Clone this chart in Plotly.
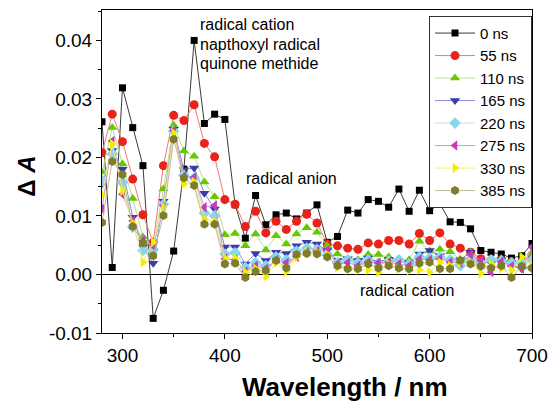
import plotly.graph_objects as go

wavelength = list(range(280, 701, 10))

s0 = [26.1, 1.2, 31.9, 25.1, 18.6, -7.5, -2.7, 4.0, 18.0, 40.0, 25.8, 27.4, 26.5, 11.9, 6.2,
      13.5, 8.5, 10.2, 10.5, 9.5, 10.5, 11.9, 5.5, 6.5, 11.0, 10.5, 12.8, 12.5, 11.5, 14.6,
      10.8, 14.4, 10.9, 12.1, 9.0, 8.9, 7.8, 4.1, 3.8, 3.5, 2.8, 3.2, 5.3]
s55 = [20.8, 27.4, 22.7, 16.3, 10.2, 5.5, 18.6, 27.2, 26.3, 29.0, 22.4, 20.1, 12.8, 12.0, 8.2,
       10.8, 7.1, 9.1, 7.7, 9.1, 10.3, 8.8, 5.2, 4.9, 4.5, 4.3, 5.4, 5.2, 5.8, 5.8,
       5.2, 7.0, 5.8, 7.1, 5.2, 4.5, 3.8, 2.7, 2.4, 2.5, 2.2, 2.1, 3.2]
s110 = [17.5, 25.1, 18.9, 13.0, 6.4, 4.7, 14.6, 25.5, 21.1, 20.2, 15.8, 13.3, 6.8, 7.0, 4.9,
        6.9, 4.2, 6.6, 5.2, 6.9, 8.0, 7.2, 4.9, 3.5, 2.7, 2.5, 3.4, 3.4, 3.0, 2.5,
        2.5, 5.7, 4.0, 4.3, 3.9, 2.6, 3.8, 1.8, 2.4, 2.7, 1.8, 2.1, 3.8]
s165 = [15.5, 21.2, 18.0, 9.8, 4.7, 1.9, 12.5, 24.8, 17.9, 18.2, 13.9, 11.2, 4.7, 4.7, 1.8,
        3.6, 2.4, 3.8, 3.6, 4.9, 5.5, 5.2, 4.1, 2.4, 2.7, 2.4, 2.8, 2.1, 2.6, 2.2,
        2.0, 3.5, 4.1, 3.2, 2.4, 2.5, 3.8, 1.8, 2.1, 2.5, 1.7, 1.0, 1.0]
s220 = [16.0, 20.6, 15.7, 8.1, 4.1, 4.2, 12.0, 24.5, 17.0, 16.5, 10.5, 10.0, 3.5, 3.7, 1.2,
        2.0, 1.5, 3.0, 2.5, 4.0, 4.5, 4.3, 3.5, 2.0, 2.5, 2.0, 2.5, 2.0, 2.3, 2.5,
        1.8, 3.0, 2.8, 3.0, 2.5, 1.5, 2.5, 2.0, 2.5, 2.3, 2.0, 2.0, 2.5]
s275 = [11.2, 22.8, 13.7, 9.2, 5.8, 4.9, 11.8, 24.6, 16.8, 16.6, 11.5, 11.8, 2.7, 2.5, 0.5,
        1.5, 1.0, 2.5, 2.0, 3.0, 3.8, 4.0, 4.1, 1.8, 2.0, 1.5, 2.1, 2.0, 2.1, 1.8,
        1.5, 2.6, 2.5, 2.7, 2.1, 2.0, 3.4, 2.4, 0.4, 2.2, 1.4, 1.0, 4.7]
s330 = [13.6, 22.3, 14.3, 8.8, 2.1, 5.5, 11.5, 24.2, 15.5, 15.8, 9.5, 9.0, 2.8, 2.8, 0.4,
        1.0, -0.3, 2.0, 0.5, 3.0, 3.8, 3.8, 3.4, 1.2, 0.8, 0.8, 0.8, 0.4, 1.8, 1.0,
        0.7, 0.8, 0.4, 2.1, 1.5, 2.1, 2.1, 0.2, 1.8, 1.0, 0.7, 3.0, 1.5]
s385 = [8.9, 19.3, 17.1, 8.2, 5.4, 3.2, 10.1, 23.1, 16.5, 15.2, 8.6, 8.6, 1.8, 1.9, -0.5,
        0.5, 0.7, 2.4, 1.1, 3.4, 3.6, 3.5, 3.0, 1.5, 1.0, 1.0, 1.8, 1.1, 1.5, 1.1,
        1.0, 1.9, 2.1, 1.0, 1.0, 2.4, 1.8, 1.4, 1.1, 1.5, -0.5, 1.4, 1.1]

series_names = ["0 ns", "55 ns", "110 ns", "165 ns", "220 ns", "275 ns", "330 ns", "385 ns"]
series_vals = [s0, s55, s110, s165, s220, s275, s330, s385]

ytick_vals = [-0.01, 0.0, 0.01, 0.02, 0.03, 0.04]
ytick_text = ["-0.01", "0.00", "0.01", "0.02", "0.03", "0.04"]
xtick_vals = [300, 400, 500, 600, 700]
xtick_text = ["300", "400", "500", "600", "700"]

marker_colors = ["#000000", "#e8231a", "#66c800", "#3b3ba5", "#86d6ee", "#c43cb8", "#f2ee00", "#7f7d2c"]
line_colors = ["#3a3a3a", "#f07a70", "#b6e48a", "#8a8ad6", "#b4e4f4", "#e08ad8", "#f4f070", "#bdbc92"]
symbols = ["square", "circle", "triangle-up", "triangle-down", "diamond", "triangle-left", "triangle-right", "hexagon"]
sizes = [7, 9, 9, 9, 9, 9, 9, 9]

fig = go.Figure()
for name, vals, mc, lc, sym, sz in zip(series_names, series_vals, marker_colors, line_colors, symbols, sizes):
    fig.add_trace(go.Scatter(
        x=wavelength, y=[v / 1000 for v in vals], name=name, mode="lines+markers",
        line=dict(color=lc, width=1),
        marker=dict(symbol=sym, size=sz, color=mc, line=dict(width=0)),
    ))

font_family = "Arial, Liberation Sans, sans-serif"

fig.update_layout(
    width=557, height=404,
    margin=dict(l=102, r=17, t=9, b=71),
    paper_bgcolor="white", plot_bgcolor="white",
    font=dict(family=font_family, color="black"),
    showlegend=True,
    legend=dict(
        x=1.0, y=0.982, xanchor="right", yanchor="top",
        bgcolor="white", bordercolor="#333333", borderwidth=1,
        font=dict(size=15, family=font_family, color="black"),
        tracegroupgap=0, itemwidth=40,
    ),
    xaxis=dict(
        range=[280, 700], showgrid=False, zeroline=False,
        showline=True, linecolor="black", linewidth=1, mirror=True,
        ticks="outside", ticklen=5, tickcolor="black",
        tickvals=xtick_vals, ticktext=xtick_text,
        tickfont=dict(size=19, family=font_family),
        minor=dict(dtick=50, tick0=300, ticks="outside", ticklen=3, tickcolor="black", showgrid=False),
    ),
    yaxis=dict(
        range=[-0.01, 0.0452], showgrid=False,
        zeroline=True, zerolinecolor="black", zerolinewidth=1,
        showline=True, linecolor="black", linewidth=1, mirror=True,
        ticks="outside", ticklen=5, tickcolor="black",
        tickvals=ytick_vals, ticktext=ytick_text,
        tickfont=dict(size=19, family=font_family),
        minor=dict(dtick=0.005, tick0=0, ticks="outside", ticklen=3, tickcolor="black", showgrid=False),
    ),
)

ann_font = dict(size=16, family=font_family, color="black")
labels = [
    ("radical cation", 373.6, 0.04276),
    ("napthoxyl radical", 373.6, 0.03935),
    ("quinone methide", 373.6, 0.03612),
    ("radical anion", 418.6, 0.01635),
    ("radical cation", 530.2, -0.00273),
]
for txt, xx, yy in labels:
    fig.add_annotation(x=xx, y=yy, xref="x", yref="y", text=txt, showarrow=False,
                       xanchor="left", yanchor="middle", font=ann_font)

fig.add_annotation(x=0.566, y=-0.167, xref="paper", yref="paper", text="<b>Wavelength / nm</b>",
                   showarrow=False, xanchor="center", yanchor="middle",
                   font=dict(size=26, family=font_family, color="black"))
fig.add_annotation(x=-0.176, y=0.485, xref="paper", yref="paper", text="<b>Δ <i>A</i></b>",
                   showarrow=False, xanchor="center", yanchor="middle", textangle=-90,
                   font=dict(size=24, family=font_family, color="black"))

fig.write_html("out.html")
